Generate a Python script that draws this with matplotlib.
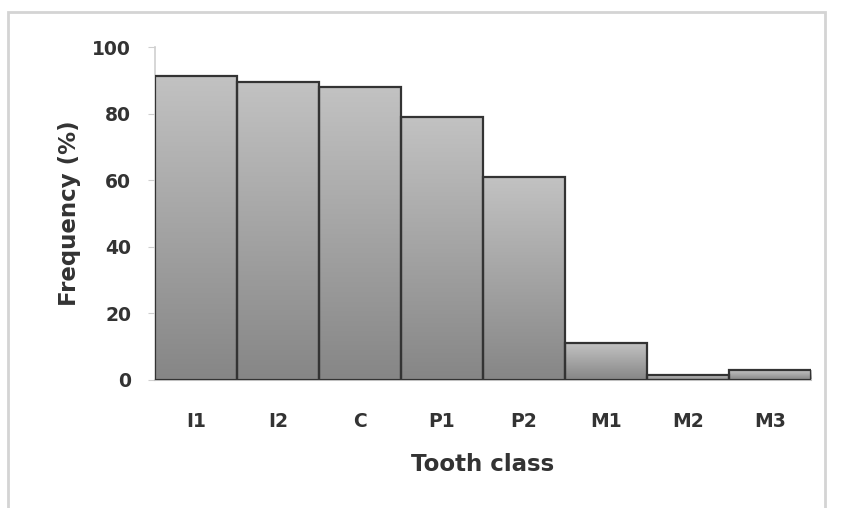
import numpy as np
import matplotlib.pyplot as plt
from matplotlib.patches import Rectangle
from matplotlib.colors import LinearSegmentedColormap

# tooth class frequencies (%)
classes = ['I1', 'I2', 'C', 'P1', 'P2', 'M1', 'M2', 'M3']
freq = [91.5, 89.5, 88, 79, 61, 11, 1.5, 3]
yticks = [0, 20, 40, 60, 80, 100]

plt.rcParams['font.family'] = ['DejaVu Sans']
txt = '#333333'

fig = plt.figure(figsize=(8.46, 5.08), dpi=100)
ax = fig.add_axes([0.183, 0.252, 0.776, 0.655])

# light frame around the chart area
fig.patches.append(Rectangle((8 / 846, -0.05), (825 - 8) / 846, 1.05 - 12 / 508,
                             transform=fig.transFigure, fill=False,
                             edgecolor='#d4d4d4', linewidth=2.0))

bars = ax.bar(range(len(classes)), freq, width=1.0, color='none',
              edgecolor='#333333', linewidth=1.6, zorder=3)

# vertical gradient inside each bar, lighter at top
cmap = LinearSegmentedColormap.from_list('g', ['#868686', '#c2c2c2'])
grad = np.linspace(0, 1, 256).reshape(-1, 1)
for b in bars:
    x0, w, h = b.get_x(), b.get_width(), b.get_height()
    im = ax.imshow(grad, cmap=cmap, origin='lower', aspect='auto',
                   extent=(x0, x0 + w, 0, h), zorder=2)
    im.set_clip_path(b)

ax.set_xlim(-0.5, len(classes) - 0.5)
ax.set_ylim(0, 100)
ax.set_yticks(yticks)
ax.set_xticks(range(len(classes)))
ax.set_xticklabels(classes)

for s in ['top', 'right']:
    ax.spines[s].set_visible(False)
ax.spines['left'].set_color('#cfcfcf')
ax.spines['bottom'].set_color('#bfbfbf')
ax.spines['left'].set_linewidth(1.2)
ax.spines['bottom'].set_linewidth(1.5)
ax.tick_params(axis='y', length=5, color='#cfcfcf', pad=12, labelsize=13.5, labelcolor=txt)
ax.tick_params(axis='x', length=0, pad=23, labelsize=13.5, labelcolor=txt)
for lab in ax.get_xticklabels() + ax.get_yticklabels():
    lab.set_fontweight('bold')

ax.set_ylabel('Frequency (%)', fontsize=16.5, fontweight='bold', color=txt, labelpad=8)
ax.set_xlabel('Tooth class', fontsize=16.5, fontweight='bold', color=txt, labelpad=16)

fig.savefig('out.png', dpi=100)
